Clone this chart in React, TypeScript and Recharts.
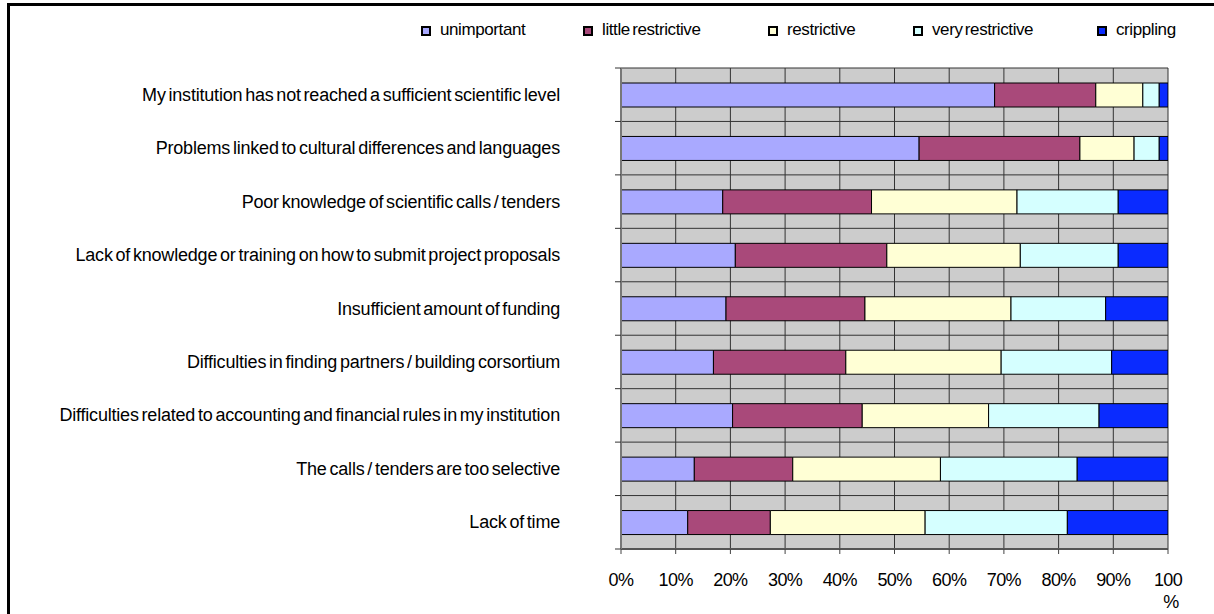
import { BarChart, Bar, XAxis, YAxis, CartesianGrid } from "recharts";

const categories = [
  "My institution has not reached a sufficient scientific level",
  "Problems linked to cultural differences and languages",
  "Poor knowledge of scientific calls / tenders",
  "Lack of knowledge or training on how to submit project proposals",
  "Insufficient amount of funding",
  "Difficulties in finding partners / building corsortium",
  "Difficulties related to accounting and financial rules in my institution",
  "The calls / tenders are too selective",
  "Lack of time",
];

const unimportant = [68.3, 54.5, 18.6, 20.9, 19.2, 16.9, 20.4, 13.4, 12.2];
const littleRestrictive = [18.5, 29.4, 27.2, 27.7, 25.4, 24.2, 23.7, 18.0, 15.1];
const restrictive = [8.6, 9.9, 26.6, 24.4, 26.7, 28.4, 23.1, 27.0, 28.3];
const veryRestrictive = [3.0, 4.6, 18.5, 17.9, 17.3, 20.2, 20.2, 25.0, 26.0];
const crippling = [1.6, 1.6, 9.1, 9.1, 11.4, 10.3, 12.6, 16.6, 18.4];

const xTicks = [0, 10, 20, 30, 40, 50, 60, 70, 80, 90, 100];

const series = [
  { key: "unimportant", name: "unimportant", color: "#A9A9FF" },
  { key: "little", name: "little restrictive", color: "#A9497A" },
  { key: "restrictive", name: "restrictive", color: "#FFFFD5" },
  { key: "very", name: "very restrictive", color: "#D5FFFF" },
  { key: "crippling", name: "crippling", color: "#0A2BFF" },
];

const data = categories.map((label, i) => ({
  label,
  unimportant: unimportant[i],
  little: littleRestrictive[i],
  restrictive: restrictive[i],
  very: veryRestrictive[i],
  crippling: crippling[i],
}));

const FONT = "'Liberation Sans', Arial, sans-serif";

// legend slots are uneven in the original
const legendSlots = [162, 185, 145, 184, 100];

const ChartLegend = () => (
  <div
    style={{
      position: "absolute",
      left: 421,
      top: 19,
      display: "flex",
      fontFamily: FONT,
      fontSize: 17,
      letterSpacing: -0.4,
      wordSpacing: -2,
      lineHeight: "22px",
      whiteSpace: "nowrap",
    }}
  >
    {series.map((s, i) => (
      <div key={s.key} style={{ width: legendSlots[i], display: "flex", alignItems: "center" }}>
        <span
          style={{
            display: "inline-block",
            width: 6,
            height: 6,
            background: s.color,
            border: "2px solid #000",
            marginRight: 9,
            marginTop: 2,
          }}
        />
        <span>{s.name}</span>
      </div>
    ))}
  </div>
);

// horizontal grid lines sit on the category boundaries (band edges), not the centres
const rowBoundaries = (args: any) => {
  const { top, height } = args.offset;
  const n = categories.length;
  return Array.from({ length: n + 1 }, (_, i) => top + (height * i) / n);
};

const XTick = (props: any) => {
  const { x, y, payload } = props;
  if (payload.value === 100) {
    return (
      <text x={x} y={y} textAnchor="middle" fontFamily={FONT} fontSize={18} fill="#000" letterSpacing={-0.6}>
        <tspan x={x} dy={30}>100</tspan>
        <tspan x={x + 3} dy={22}>%</tspan>
      </text>
    );
  }
  return (
    <text x={x} y={y} dy={30} textAnchor="middle" fontFamily={FONT} fontSize={18} fill="#000" letterSpacing={-0.6}>
      {payload.value + "%"}
    </text>
  );
};

const YTick = (props: any) => {
  const { y, payload, index, visibleTicksCount } = props;
  const half = typeof payload?.offset === "number" ? payload.offset : 0;
  const axisX = 621;
  return (
    <g>
      {half > 0 && (
        <line x1={axisX - 6} x2={axisX} y1={y - half} y2={y - half} stroke="#333" strokeWidth={1} />
      )}
      {half > 0 && index === visibleTicksCount - 1 && (
        <line x1={axisX - 6} x2={axisX} y1={y + half} y2={y + half} stroke="#333" strokeWidth={1} />
      )}
      <text
        x={560}
        y={y}
        dy={6}
        textAnchor="end"
        fontFamily={FONT}
        fontSize={18}
        fill="#000"
        letterSpacing={-0.2}
        wordSpacing={-2}
      >
        {payload.value}
      </text>
    </g>
  );
};

export default function App() {
  return (
    <div style={{ position: "fixed", inset: 0, overflow: "hidden", background: "#fff" }}>
      <div
        style={{
          position: "absolute",
          left: 7,
          top: 3,
          width: 1300,
          height: 700,
          border: "3px solid #000",
        }}
      />
      <ChartLegend />
      <div style={{ position: "absolute", left: 0, top: 0 }}>
        <BarChart
          width={1214}
          height={614}
          data={data}
          layout="vertical"
          margin={{ top: 68, right: 46, bottom: 35, left: 0 }}
          barSize={24}
        >
          <CartesianGrid
            fill="#CCCCCC"
            fillOpacity={1}
            stroke="#333"
            strokeWidth={1}
            horizontalCoordinatesGenerator={rowBoundaries}
          />
          <XAxis
            type="number"
            domain={[0, 100]}
            ticks={xTicks}
            interval={0}
            height={30}
            allowDataOverflow
            tick={<XTick />}
            tickSize={5}
            stroke="#444"
            axisLine={{ stroke: "#555", strokeWidth: 2 }}
          />
          <YAxis
            type="category"
            dataKey="label"
            width={621}
            axisLine={{ stroke: "#777", strokeWidth: 2 }}
            tickLine={false}
            interval={0}
            tick={<YTick />}
          />
          {series.map((s) => (
            <Bar
              key={s.key}
              dataKey={s.key}
              name={s.name}
              stackId="a"
              fill={s.color}
              stroke="#000"
              strokeWidth={1}
              isAnimationActive={false}
            />
          ))}
        </BarChart>
      </div>
    </div>
  );
}
